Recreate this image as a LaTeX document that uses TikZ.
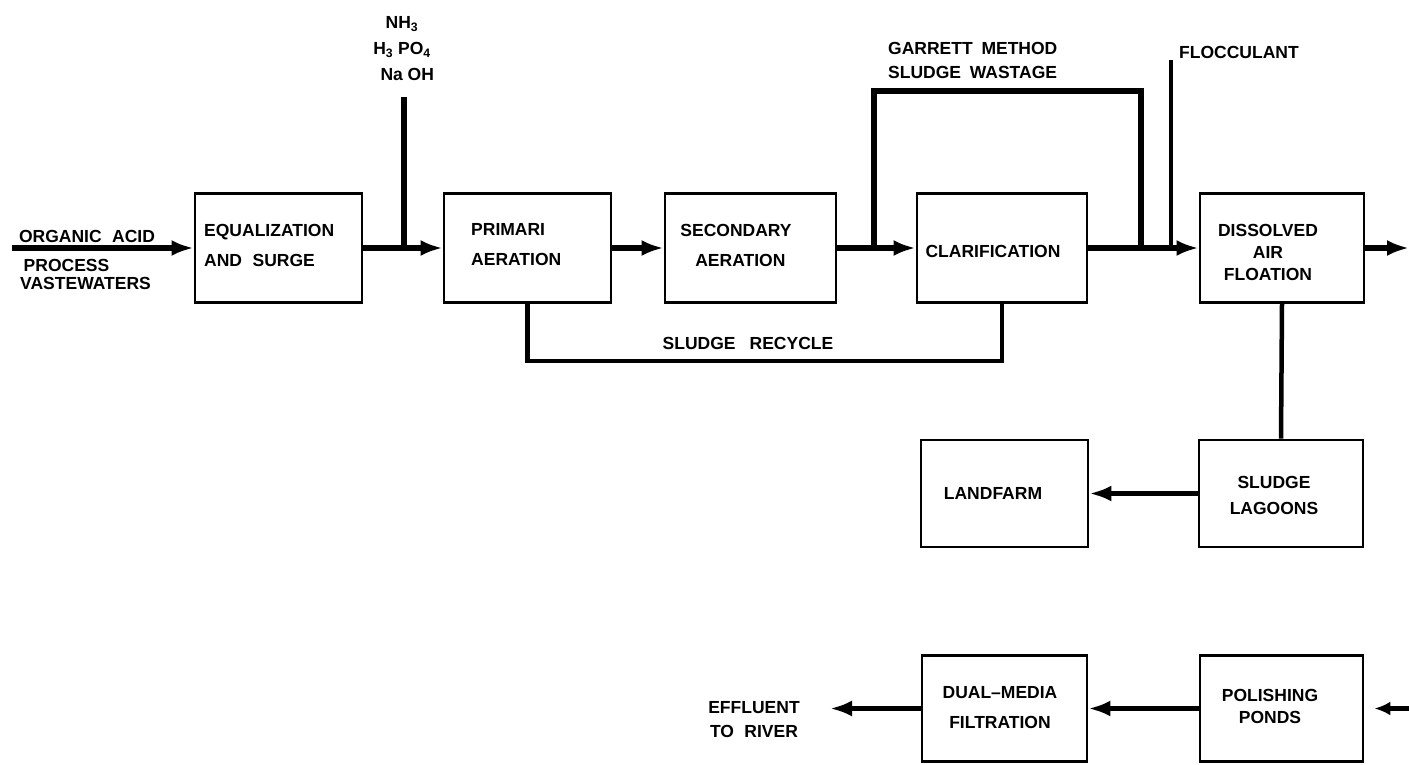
\documentclass[tikz,border=0pt]{standalone}
\usepackage{fontspec}
\setmainfont{Liberation Sans}
\usetikzlibrary{arrows.meta}
\begin{document}
\begin{tikzpicture}[x=1pt,y=-1pt,
  box/.style={draw, line width=2.8pt, inner sep=0pt},
  txt/.style={inner sep=0pt, font=\bfseries\fontsize{17.5}{20}\selectfont},
  flow/.style={line width=5.5pt},
  thin flow/.style={line width=4.5pt},
  arr/.style={line width=5.5pt, -{Latex[length=22pt,width=16pt]}},
]
\useasboundingbox (0,0) rectangle (1409,764);
% boxes
\node[box, minimum width=167pt, minimum height=109pt] (eq)   at (278.5,248) {};
\node[box, minimum width=167pt, minimum height=109pt] (pri)  at (527.5,248) {};
\node[box, minimum width=171pt, minimum height=109pt] (sec)  at (750.5,248) {};
\node[box, minimum width=170pt, minimum height=109pt] (clar) at (1002,248) {};
\node[box, minimum width=164pt, minimum height=109pt] (daf)  at (1282,248) {};
\node[box, minimum width=164pt, minimum height=107pt] (lag)  at (1281,493.5) {};
\node[box, minimum width=167pt, minimum height=107pt] (land) at (1004.5,493.5) {};
\node[box, minimum width=163pt, minimum height=106pt] (pol)  at (1281.5,708.5) {};
\node[box, minimum width=165pt, minimum height=106pt] (dual) at (1004.5,708.5) {};
% texts
\node[txt] (orgT) at (87,236) {ORGANIC\hspace{0.6em}ACID};
\node[txt, anchor=west, align=left, font=\bfseries\fontsize{17.5}{18}\selectfont] (procT) at (20,274) {\hspace{0.2em}PROCESS\\VASTEWATERS};
\node[txt, anchor=west, align=left, font=\bfseries\fontsize{17.5}{30}\selectfont] (eqT) at (204,245) {EQUALIZATION\\AND\hspace{0.6em}SURGE};
\node[txt, align=center, font=\bfseries\fontsize{17.5}{26}\selectfont] (chemT) at (402,49) {NH\textsubscript{3}\\H\textsubscript{3} PO\textsubscript{4}\\\hspace{0.6em}Na OH};
\node[txt, anchor=west, align=left, font=\bfseries\fontsize{17.5}{30}\selectfont] (priT) at (471,245) {PRIMARI\\AERATION};
\node[txt, align=center, font=\bfseries\fontsize{17.5}{30}\selectfont] (secT) at (736,245) {SECONDARY\\\hspace{0.5em}AERATION};
\node[txt] (clarT) at (993,251) {CLARIFICATION};
\node[txt, anchor=west, align=left, font=\bfseries\fontsize{17.5}{24}\selectfont] (garT) at (888,60) {GARRETT\hspace{0.5em}METHOD\\SLUDGE\hspace{0.5em}WASTAGE};
\node[txt, anchor=west] (flocT) at (1179,52) {FLOCCULANT};
\node[txt, align=center, font=\bfseries\fontsize{17.5}{22}\selectfont] (dafT) at (1268,252) {DISSOLVED\\AIR\\FLOATION};
\node[txt] (recT) at (748,343) {SLUDGE\hspace{0.8em}RECYCLE};
\node[txt, align=center, font=\bfseries\fontsize{17.5}{26}\selectfont] (lagT) at (1274,495) {SLUDGE\\LAGOONS};
\node[txt] (landT) at (993,493) {LANDFARM};
\node[txt, align=center, font=\bfseries\fontsize{17.5}{22}\selectfont] (polT) at (1270,706) {POLISHING\\PONDS};
\node[txt, align=center, font=\bfseries\fontsize{17.5}{30}\selectfont] (dualT) at (1000,708) {DUAL--MEDIA\\FILTRATION};
\node[txt, align=center, font=\bfseries\fontsize{17.5}{24}\selectfont] (effT) at (754,720) {EFFLUENT\\TO\hspace{0.6em}RIVER};
% free ends and junctions
\coordinate (orgS) at (12,248);
\coordinate (chemS) at (404,97);
\coordinate (chemJ) at (404,248);
\coordinate (gA) at (874,248);
\coordinate (gB) at (1141,248);
\coordinate (flocS) at (1171,60);
\coordinate (flocJ) at (1171,248);
\coordinate (outE) at (1409,248);
\coordinate (inP) at (1409,708.5);
\coordinate (effE) at (830,708.5);
% connectors
\draw[arr] (orgS) -- (eq.west);
\draw[flow] (eq.east) -- (chemJ);
\draw[arr] (chemJ) -- (pri.west);
\draw[flow] (chemS) -- (chemJ);
\draw[arr] (pri.east) -- (sec.west);
\draw[arr] (sec.east) -- (clar.west);
\draw[flow, line join=miter] (gA) -- ++(0,-157) -| (gB);
\draw[arr] (clar.east) -- (daf.west);
\draw[thin flow] (flocS) -- (flocJ);
\draw[arr] (daf.east) -- (outE);
\draw[thin flow] (daf.south) -- (lag.north);
\draw[arr] (lag.west) -- (land.east);
\draw[thin flow, line join=miter] (pri.south) -- ++(0,57) -| (clar.south);
\draw[line width=4.5pt, -{Latex[length=16pt,width=14pt]}, shorten >=10pt] (inP) -- (pol.east);
\draw[arr] (pol.west) -- (dual.east);
\draw[arr] (dual.west) -- (effE);
\end{tikzpicture}
\end{document}
